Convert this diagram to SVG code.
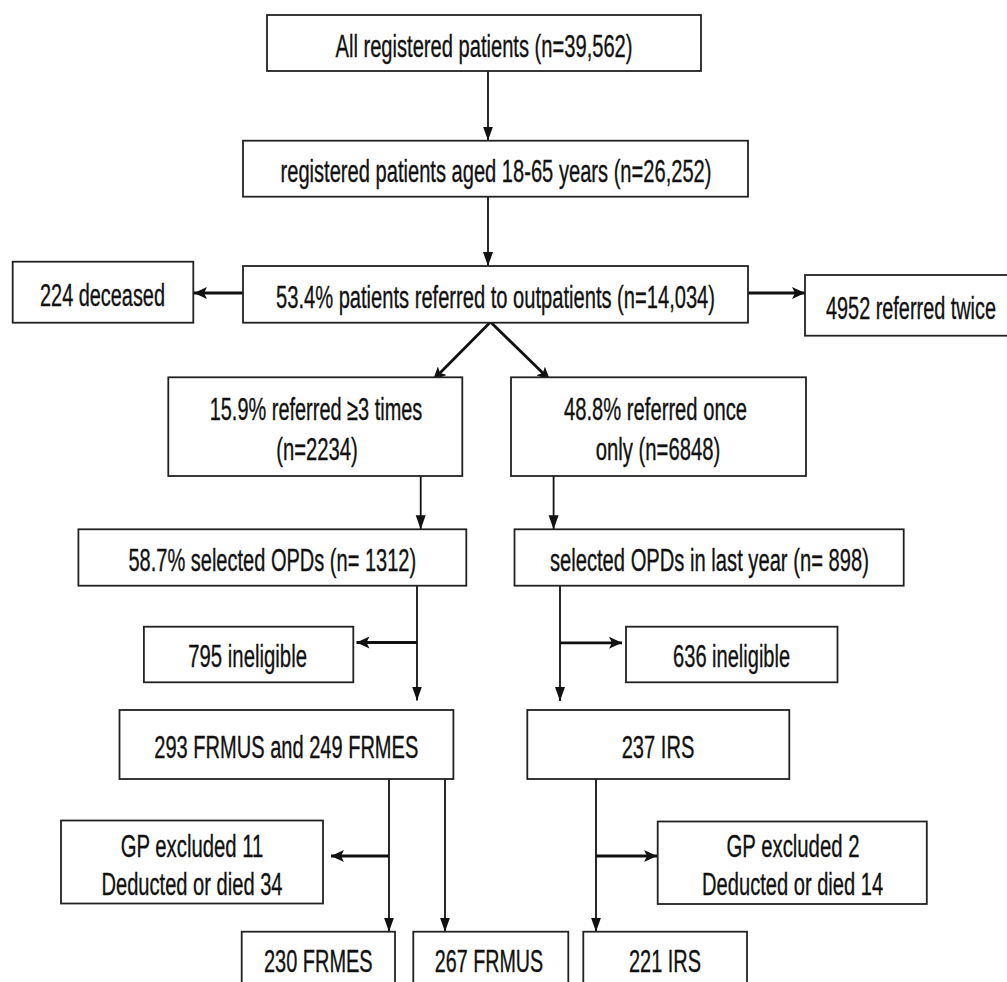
<svg xmlns="http://www.w3.org/2000/svg" width="1007" height="982" viewBox="0 0 1007 982">
<style>
.box{fill:#fff;stroke:#222;stroke-width:1.8}
.t{font-family:'Liberation Sans Narrow','Liberation Sans',Arial,sans-serif;font-size:31px;fill:#111;stroke:#111;stroke-width:0.35;text-anchor:middle}
.thin{stroke:#111;stroke-width:1.8;fill:none}
.thick{stroke:#111;stroke-width:2.8;fill:none}
</style>
<defs>
<marker id="ah" markerUnits="userSpaceOnUse" markerWidth="14" markerHeight="11" refX="14" refY="5" orient="auto">
<path d="M0,0 L14,5 L0,10 z" fill="#111"/>
</marker>
<marker id="ahb" markerUnits="userSpaceOnUse" markerWidth="14" markerHeight="12" refX="13" refY="6" orient="auto">
<path d="M0,0 L13,6 L0,12 L3,6 z" fill="#111"/>
</marker>
</defs>
<rect width="1007" height="982" fill="#fff"/>
<g id="connectors">
<line class="thin" x1="488" y1="71" x2="488" y2="140.5" marker-end="url(#ah)"/>
<line class="thin" x1="488" y1="197" x2="488" y2="266" marker-end="url(#ah)"/>
<line class="thick" x1="243" y1="293" x2="194" y2="293" marker-end="url(#ahb)"/>
<line class="thick" x1="748" y1="293" x2="805" y2="293" marker-end="url(#ahb)"/>
<line class="thick" x1="490.5" y1="322" x2="433" y2="380" marker-end="url(#ahb)"/>
<line class="thick" x1="490.5" y1="322" x2="550" y2="380" marker-end="url(#ahb)"/>
<line class="thin" x1="420.7" y1="476" x2="420.7" y2="529.3" marker-end="url(#ah)"/>
<line class="thin" x1="553.6" y1="476" x2="553.6" y2="529.3" marker-end="url(#ah)"/>
<line class="thin" x1="417" y1="585.7" x2="417" y2="700.5" marker-end="url(#ah)"/>
<line class="thick" x1="417" y1="642.5" x2="356.5" y2="642.5" marker-end="url(#ahb)"/>
<line class="thin" x1="560" y1="585.7" x2="560" y2="701" marker-end="url(#ah)"/>
<line class="thick" x1="560" y1="642.8" x2="622" y2="642.8" marker-end="url(#ahb)"/>
<line class="thin" x1="389" y1="779" x2="389" y2="931.7" marker-end="url(#ah)"/>
<line class="thin" x1="445" y1="779" x2="445" y2="931.7" marker-end="url(#ah)"/>
<line class="thick" x1="389" y1="856" x2="331" y2="856" marker-end="url(#ahb)"/>
<line class="thin" x1="596" y1="779" x2="596" y2="931.7" marker-end="url(#ah)"/>
<line class="thick" x1="596" y1="856" x2="657" y2="856" marker-end="url(#ahb)"/>
</g>
<g id="n1"><rect class="box" x="267" y="15" width="434" height="56"/><text class="t" x="484" y="56.5" textLength="297" lengthAdjust="spacingAndGlyphs">All registered patients (n=39,562)</text></g>
<g id="n2"><rect class="box" x="243" y="140.7" width="505" height="56"/><text class="t" x="496" y="182" textLength="431" lengthAdjust="spacingAndGlyphs">registered patients aged 18-65 years (n=26,252)</text></g>
<g id="n3"><rect class="box" x="243" y="266" width="505" height="56.7"/><text class="t" x="495.5" y="307.5" textLength="439" lengthAdjust="spacingAndGlyphs">53.4% patients referred to outpatients (n=14,034)</text></g>
<g id="n4"><rect class="box" x="12.7" y="261.7" width="180.6" height="61"/><text class="t" x="102.5" y="306" textLength="125" lengthAdjust="spacingAndGlyphs">224 deceased</text></g>
<g id="n5"><rect class="box" x="805" y="275" width="215" height="60.7"/><text class="t" x="911" y="319" textLength="170" lengthAdjust="spacingAndGlyphs">4952 referred twice</text></g>
<g id="n6"><rect class="box" x="168.3" y="377.3" width="294" height="98.7"/><text class="t" x="316" y="419.5" textLength="212.6" lengthAdjust="spacingAndGlyphs">15.9% referred ≥3 times</text><text class="t" x="317" y="460" textLength="81.6" lengthAdjust="spacingAndGlyphs">(n=2234)</text></g>
<g id="n7"><rect class="box" x="511" y="377.3" width="295" height="98.7"/><text class="t" x="655.5" y="419.5" textLength="183" lengthAdjust="spacingAndGlyphs">48.8% referred once</text><text class="t" x="658" y="460" textLength="124.6" lengthAdjust="spacingAndGlyphs">only (n=6848)</text></g>
<g id="n8"><rect class="box" x="78.4" y="529.3" width="387.9" height="56.4"/><text class="t" x="272.3" y="571" textLength="287.7" lengthAdjust="spacingAndGlyphs">58.7% selected OPDs (n= 1312)</text></g>
<g id="n9"><rect class="box" x="514.5" y="529.3" width="389.2" height="56.4"/><text class="t" x="709.4" y="571" textLength="319" lengthAdjust="spacingAndGlyphs">selected OPDs in last year (n= 898)</text></g>
<g id="n10"><rect class="box" x="143.9" y="626.7" width="209.4" height="55.6"/><text class="t" x="247.6" y="667" textLength="118.8" lengthAdjust="spacingAndGlyphs">795 ineligible</text></g>
<g id="n11"><rect class="box" x="626" y="626.7" width="211.5" height="55.6"/><text class="t" x="731.6" y="667" textLength="117" lengthAdjust="spacingAndGlyphs">636 ineligible</text></g>
<g id="n12"><rect class="box" x="119.5" y="710" width="333.9" height="69"/><text class="t" x="286.3" y="758" textLength="264" lengthAdjust="spacingAndGlyphs">293 FRMUS and 249 FRMES</text></g>
<g id="n13"><rect class="box" x="527.3" y="710" width="262" height="69"/><text class="t" x="658" y="758" textLength="72.6" lengthAdjust="spacingAndGlyphs">237 IRS</text></g>
<g id="n14"><rect class="box" x="61" y="820.5" width="262" height="83"/><text class="t" x="192" y="856.5" textLength="142.6" lengthAdjust="spacingAndGlyphs">GP excluded 11</text><text class="t" x="192" y="895" textLength="181" lengthAdjust="spacingAndGlyphs">Deducted or died 34</text></g>
<g id="n15"><rect class="box" x="657.7" y="821.5" width="269.1" height="82.5"/><text class="t" x="793" y="856.5" textLength="133" lengthAdjust="spacingAndGlyphs">GP excluded 2</text><text class="t" x="792.6" y="895" textLength="181" lengthAdjust="spacingAndGlyphs">Deducted or died 14</text></g>
<g id="n16"><rect class="box" x="241.7" y="931.7" width="153.3" height="60"/><text class="t" x="318.3" y="972" textLength="108.7" lengthAdjust="spacingAndGlyphs">230 FRMES</text></g>
<g id="n17"><rect class="box" x="413.3" y="931.7" width="155" height="60"/><text class="t" x="489" y="972" textLength="108.3" lengthAdjust="spacingAndGlyphs">267 FRMUS</text></g>
<g id="n18"><rect class="box" x="583.3" y="931.7" width="163.7" height="60"/><text class="t" x="665" y="972" textLength="72" lengthAdjust="spacingAndGlyphs">221 IRS</text></g>
</svg>
